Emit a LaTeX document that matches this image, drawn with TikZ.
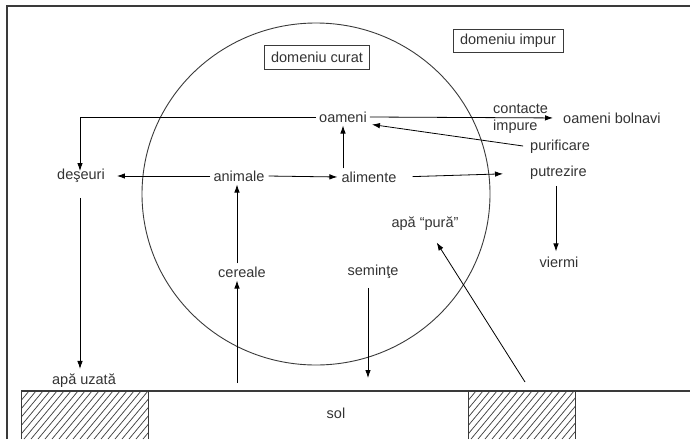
\documentclass[tikz,border=0pt]{standalone}
\usepackage{fontspec}
\setmainfont{Liberation Sans}
\usetikzlibrary{arrows.meta,calc}
\definecolor{ink}{HTML}{333333}
\definecolor{ln}{HTML}{3A3A3A}
\begin{document}
\begin{tikzpicture}[x=1pt,y=-1pt,
  lbl/.style={inner sep=3pt,text=ink,font=\fontsize{14.5}{16}\selectfont},
  boxlbl/.style={lbl,draw=ln,line width=0.9pt,inner xsep=7pt,minimum height=24pt},
  arr/.style={draw=black,line width=0.8pt,-{Latex[length=8pt,width=5.5pt]}},
  thin/.style={draw=ln,line width=0.9pt}]
\useasboundingbox (0,0) rectangle (690,439);
% frame
\draw[thin,line width=1.2pt] (7,439) -- (7,6) -- (690,6);
% circle
\draw[thin] (316,194) ellipse [x radius=174, y radius=171];
% ground
\draw[thin,line width=1.2pt] (21,391) -- (690,391);
\foreach \xa/\xb in {21/148,468/575}{
  \draw[thin] (\xa,439) -- (\xa,391) -- (\xb,391) -- (\xb,439);
  \begin{scope}
    \clip (\xa,391) rectangle (\xb,439);
    \foreach \k in {-60,-53,...,140}{
      \draw[ln,line width=0.7pt] (\xa+\k,439) -- (\xa+\k+40,391);
    }
  \end{scope}
}
% nodes
\node[boxlbl] (curat) at (317,57) {domeniu curat};
\node[boxlbl,minimum height=23pt] (impur) at (508,41) {domeniu impur};
\node[lbl] (oameni) at (343,117) {oameni};
\node[lbl,anchor=west,inner sep=0pt] (contacte) at (493,109) {contacte};
\node[lbl,anchor=west,inner sep=0pt] (impure) at (493,127) {impure};
\node[lbl,anchor=west,inner sep=0pt] (bolnavi) at (563,118) {oameni bolnavi};
\node[lbl,anchor=west,inner sep=0pt] (purificare) at (530,147) {purificare};
\node[lbl,anchor=west,inner sep=0pt] (putrezire) at (530,173) {putrezire};
\node[lbl] (alimente) at (369,177) {alimente};
\node[lbl] (animale) at (239,176) {animale};
\node[lbl] (deseuri) at (81,176) {deşeuri};
\node[lbl] (apauzata) at (84,381) {apă uzată};
\node[lbl] (cereale) at (242,272) {cereale};
\node[lbl] (seminte) at (373,272) {seminţe};
\node[lbl] (apapura) at (425,224) {apă “pură”};
\node[lbl] (viermi) at (559,262) {viermi};
\node[lbl] (sol) at (336,413) {sol};
\coordinate (g1) at (237,383);
\coordinate (g2) at (368,378);
\coordinate (g3) at (525,382);
% connectors
\draw[arr] (oameni.west) -| ([yshift=-5pt]deseuri.north -| 80,0);
\draw[arr,shorten >=10pt] (oameni.east) -- (bolnavi.west);
\draw[arr,shorten <=7pt] (purificare.west) -- ([xshift=2pt,yshift=1pt]oameni.south east);
\draw[arr] (alimente.north -| oameni.south) -- (oameni.south);
\draw[arr,shorten <=13pt,shorten >=27pt] (alimente.east) -- (putrezire.west);
\draw[arr,shorten <=1pt,shorten >=1pt] (animale.east) -- (alimente.west);
\draw[arr,shorten <=0pt,shorten >=9pt] (animale.west) -- (deseuri.east);
\draw[arr,shorten <=12pt,shorten >=2pt] (deseuri.south -| 80,0) -- (apauzata.north -| 80,0);
\draw[arr] (cereale.north -| g1) -- (animale.south -| g1);
\draw[arr] (g1) -- (cereale.south -| g1);
\draw[arr,shorten <=6pt] (seminte.south -| g2) -- (g2);
\draw[arr,shorten >=10pt] (g3) -- (apapura);
\draw[arr,shorten <=6pt,shorten >=2pt] (putrezire.south -| 556,0) -- (viermi.north -| 556,0);
\end{tikzpicture}
\end{document}
